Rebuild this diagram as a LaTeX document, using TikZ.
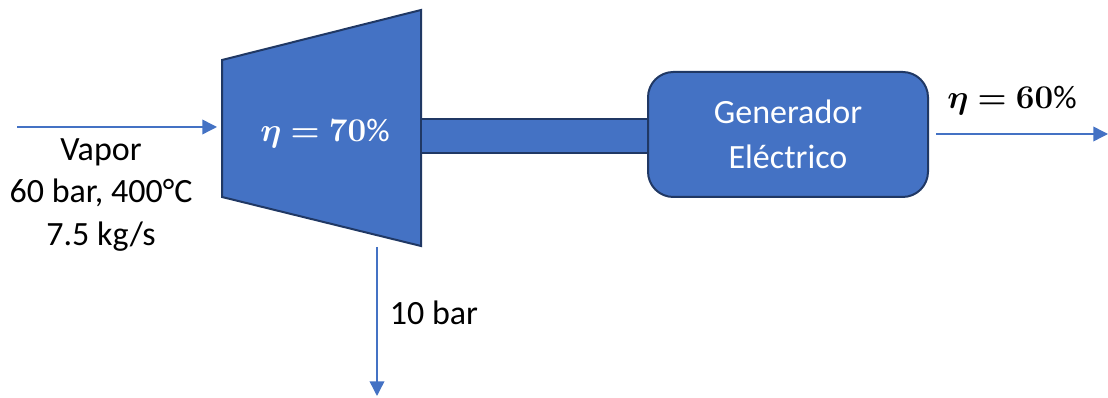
\documentclass[tikz,border=0pt]{standalone}
\usepackage{fontspec,amsmath,bm}
\setmainfont{Carlito}
\usetikzlibrary{arrows.meta}
\definecolor{azul}{HTML}{4472C4}
\definecolor{borde}{HTML}{203864}
\newcommand{\etaT}{$\bm{\eta=70\%}$}
\newcommand{\etaG}{$\bm{\eta=60\%}$}
\tikzset{
  flujo/.style={draw=azul,line width=1.1pt,-{Triangle[length=11pt,width=11pt]}},
  equipo/.style={fill=azul,draw=borde,line width=1.5pt},
  texto/.style={font=\fontsize{25.5}{32}\selectfont,align=center}
}

\begin{document}
\begin{tikzpicture}[x=0.75pt,y=-0.75pt]
                \useasboundingbox (0,0) rectangle (1108,398);
                % turbina
                \coordinate (t1) at (222,60);
                \coordinate (t2) at (421,10);
                \coordinate (t3) at (421,246);
                \coordinate (t4) at (222,197);
                \draw[equipo] (t1)--(t2)--(t3)--(t4)--cycle;
                \node[texto,text=white,font=\fontsize{24.5}{32}\selectfont] (etaturb)
                    at (325,134) {\etaT};
                % eje y generador
                \draw[equipo] (421,119) rectangle (648,153);
                \node[equipo,texto,text=white,rounded corners=19pt,minimum width=210pt,minimum height=93.75pt,inner sep=0pt,font=\fontsize{25.5}{34}\selectfont] (gen) at (788,134.5) {Generador\\Eléctrico};
                % corrientes
                \coordinate (ent) at (17,127);
                \coordinate (entT) at (217,127);
                \coordinate (sal) at (377,247);
                \coordinate (salF) at (377,396);
                \coordinate (pot) at (1108,134);
                \draw[flujo] (ent)--(entT);
                \draw[flujo] (sal)--(salF);
                \draw[flujo] ([xshift=5.25pt]gen.east|-pot)--(pot);
                \node[texto] (vapor) at (101,195) {Vapor\\60 bar, 400°C\\7.5 kg/s};
                \node[texto] (pres) at (434,313) {10 bar};
                \node[texto,font=\fontsize{24.5}{32}\selectfont] (etagen) at (1012,101) {\etaG};
            \end{tikzpicture}
\end{document}
